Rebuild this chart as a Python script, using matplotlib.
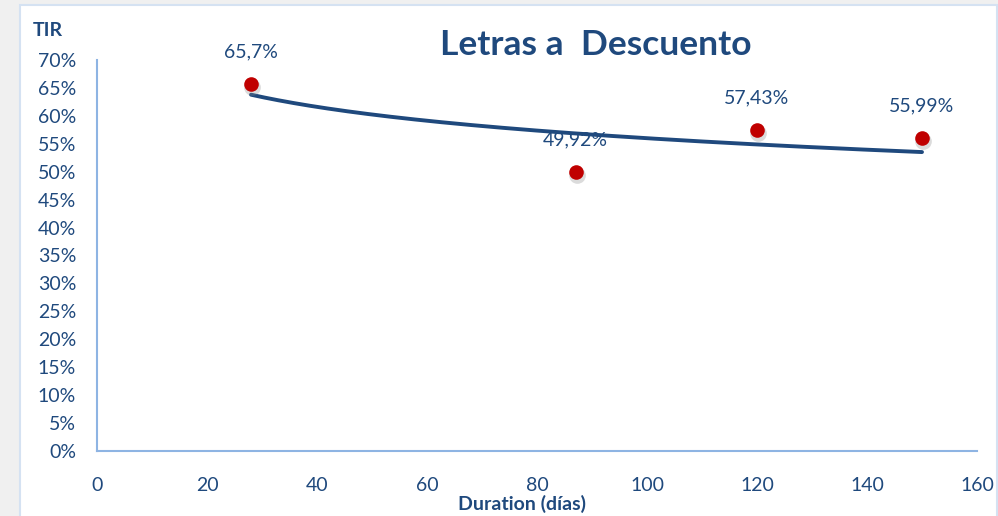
import numpy as np
import matplotlib
matplotlib.use('Agg')
import matplotlib.pyplot as plt
from matplotlib.patches import Rectangle

# datos
duration = [28, 87, 120, 150]
tir = [65.7, 49.92, 57.43, 55.99]
labels = ['65,7%', '49,92%', '57,43%', '55,99%']
xticks = [0, 20, 40, 60, 80, 100, 120, 140, 160]
yticks = list(range(0, 75, 5))

plt.rcParams['font.family'] = ['Lato', 'DejaVu Sans']
azul = '#1F497D'
eje = '#8EB4E3'

fig = plt.figure(figsize=(9.98, 5.16), dpi=100)
fig.patch.set_facecolor('#F0F0F0')
fig.patches.append(Rectangle((20/998, -0.1), 977/998 - 20/998 + 0.02, 1.1 - 5/516,
                             transform=fig.transFigure, facecolor='white',
                             edgecolor='#D5E2F2', linewidth=1.5, zorder=-10))

ax = fig.add_axes([97/998, 65/516, 880/998, 391/516])
ax.set_facecolor('none')

# linea de tendencia logaritmica (como la de Excel)
b, a = np.polyfit(np.log(duration), tir, 1)
xt = np.linspace(min(duration), max(duration), 300)
ax.plot(xt, a + b*np.log(xt), color=azul, lw=2.8, zorder=2, solid_capstyle='round')

# puntos con sombra
ax.plot(np.array(duration) + 0.2, np.array(tir) - 0.45, 'o', ms=12, color='#888888',
        alpha=0.3, mec='none', zorder=3)
ax.plot(duration, tir, 'o', ms=10.5, color='#C00000', mec='none', zorder=4)

for x, y, t in zip(duration, tir, labels):
    ax.annotate(t, (x, y), xytext=(0, 23), textcoords='offset points',
                ha='center', va='center', fontsize=14, color=azul, zorder=5)

ax.set_xlim(0, 160)
ax.set_ylim(0, 70)
ax.set_xticks(xticks)
ax.set_yticks(yticks)
ax.set_yticklabels([str(v) + '%' for v in yticks])
ax.tick_params(axis='both', length=0, labelsize=14, labelcolor=azul)
ax.tick_params(axis='y', pad=15)
ax.tick_params(axis='x', pad=19)
for s in ['top', 'right']:
    ax.spines[s].set_visible(False)
for s in ['left', 'bottom']:
    ax.spines[s].set_color(eje)
    ax.spines[s].set_linewidth(1.5)

fig.text(596/998, 1 - 45/516, 'Letras a  Descuento', ha='center', va='center',
         fontsize=25.5, fontweight='bold', color=azul)
fig.text(33/998, 1 - 31/516, 'TIR', ha='left', va='center',
         fontsize=14, fontweight='bold', color=azul)
fig.text(522/998, 1 - 504/516, 'Duration (días)', ha='center', va='center',
         fontsize=14, fontweight='bold', color=azul)

fig.savefig('out.png', dpi=100, facecolor=fig.get_facecolor())
